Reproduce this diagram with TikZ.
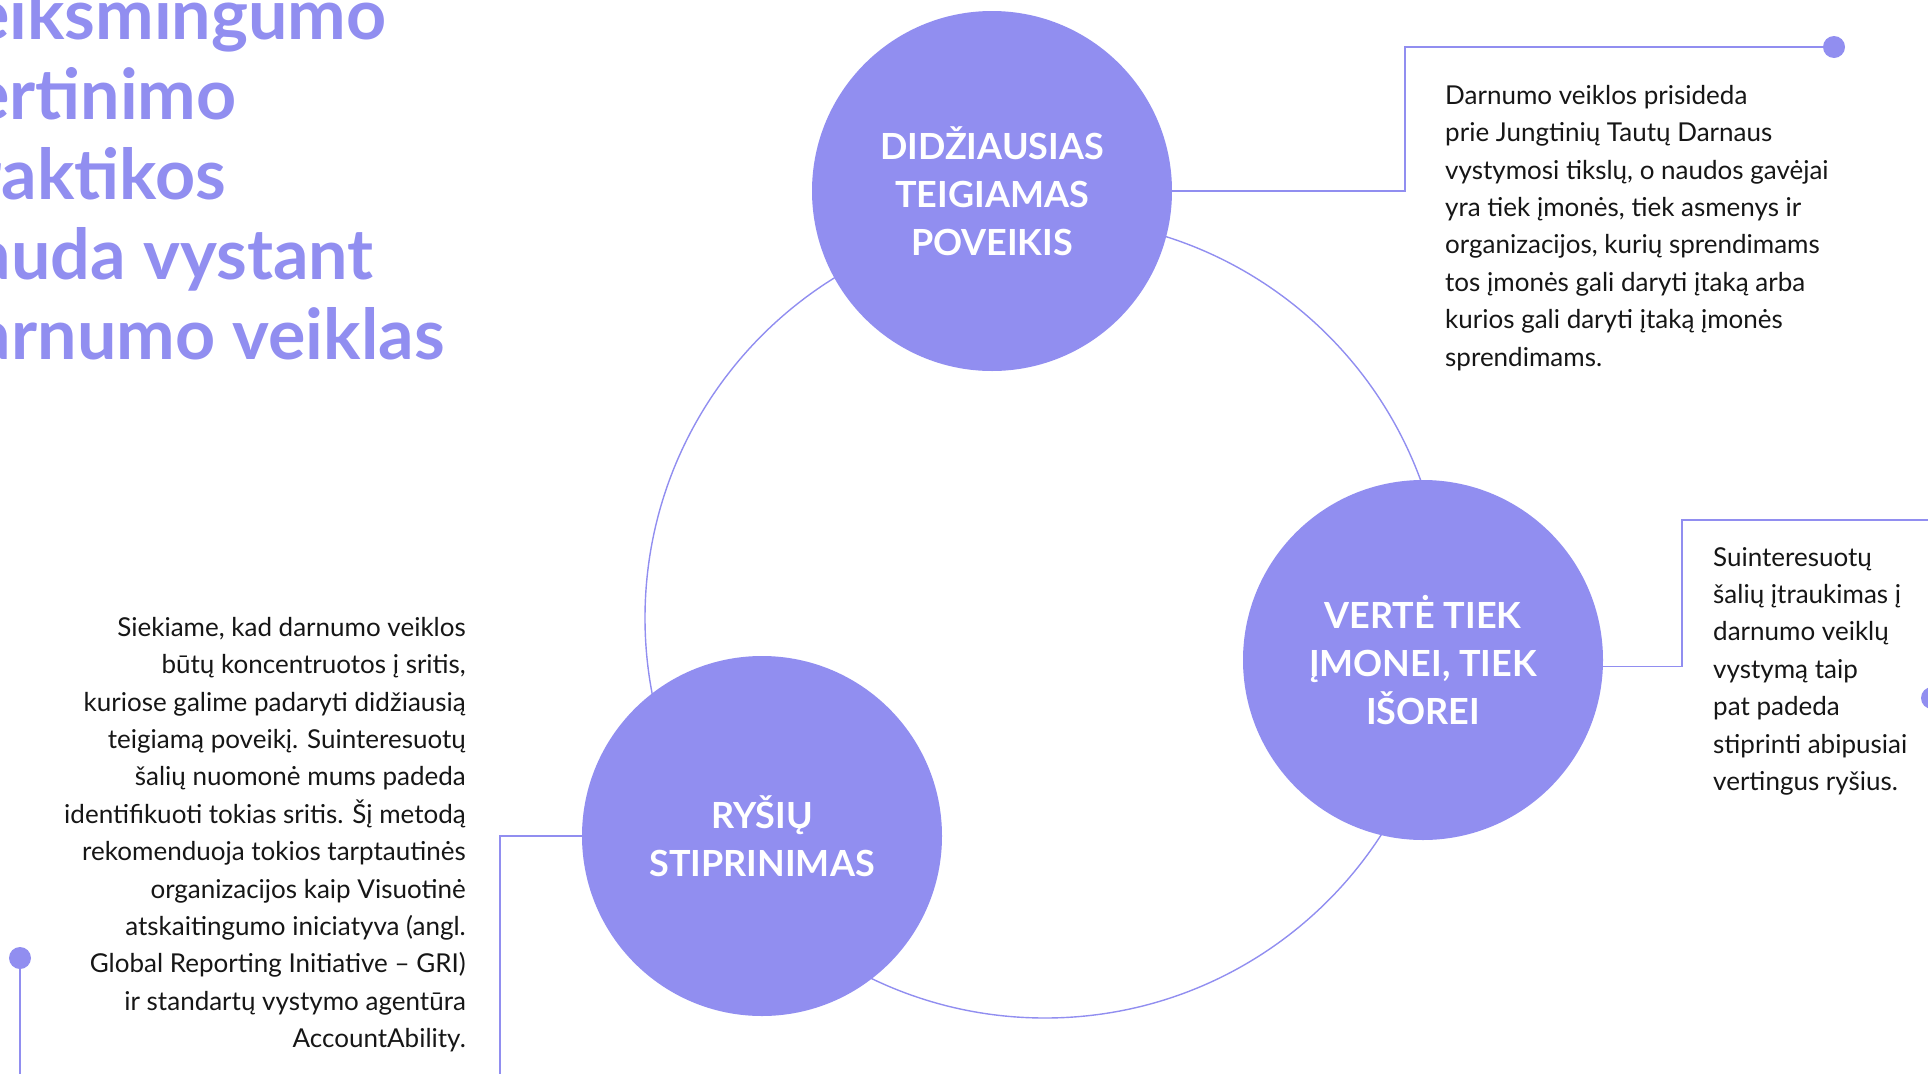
\documentclass[tikz,border=0pt]{standalone}
\usepackage{fontspec}
\setmainfont{Lato}
\definecolor{lav}{RGB}{145,142,240}
\definecolor{ink}{RGB}{22,22,22}
\begin{document}
\begin{tikzpicture}[x=1pt,y=-1pt,
    big/.style={circle,fill=lav,minimum size=360pt,inner sep=0pt,text=white,
      align=center,font=\bfseries\fontsize{36}{48}\selectfont},
    dot/.style={circle,fill=lav,minimum size=22pt,inner sep=0pt},
    link/.style={draw=lav,line width=1.4pt},
    body/.style={inner sep=0pt,text=ink,font=\fontsize{26}{37.4}\selectfont}]
  \useasboundingbox (0,0) rectangle (1928,1074);
  \clip (0,0) rectangle (1928,1074);
  \node[anchor=north west,inner sep=0pt,text=lav,align=left,
    font=\bfseries\fontsize{70}{80}\selectfont] (title) at (-64,-13)
    {veiksmingumo\\vertinimo\\praktikos\\nauda vystant\\darnumo veiklas};
  \draw[link] (1045,618) circle[radius=400];
  \node[big] (c1) at (992,191) {DIDŽIAUSIAS\\TEIGIAMAS\\POVEIKIS};
  \node[big] (c2) at (1423,660) {VERTĖ TIEK\\ĮMONEI, TIEK\\IŠOREI};
  \node[big] (c3) at (762,836) {RYŠIŲ\\STIPRINIMAS};
  \node[dot] (d1) at (1834,47) {};
  \node[dot] (d2) at (1932,698) {};
  \node[dot] (d3) at (20,958) {};
  \coordinate (k1) at (1405,47);
  \coordinate (k2) at (1682,520);
  \coordinate (e2) at (1928,520);
  \coordinate (e3) at (500,1074);
  \coordinate (e4) at (20,1074);
  \draw[link] (c1.east) -| (k1) -- (d1);
  \draw[link] (c2.-2.5) -| (k2) -- (e2);
  \draw[link] (c3.west) -| (e3);
  \draw[link] (d3) -- (e4);
  \node[body,anchor=north west,align=left] (p1) at (1445,85)
    {Darnumo veiklos prisideda\\
     prie Jungtinių Tautų Darnaus\\
     vystymosi tikslų, o naudos gavėjai\\
     yra tiek įmonės, tiek asmenys ir\\
     organizacijos, kurių sprendimams\\
     tos įmonės gali daryti įtaką arba\\
     kurios gali daryti įtaką įmonės\\
     sprendimams.};
  \node[body,anchor=north west,align=left] (p2) at (1713,547)
    {Suinteresuotų\\
     šalių įtraukimas į\\
     darnumo veiklų\\
     vystymą taip\\
     pat padeda\\
     stiprinti abipusiai\\
     vertingus ryšius.};
  \node[body,anchor=north east,align=right] (p3) at (466,617)
    {Siekiame, kad darnumo veiklos\\
     būtų koncentruotos į sritis,\\
     kuriose galime padaryti didžiausią\\
     teigiamą poveikį. Suinteresuotų\\
     šalių nuomonė mums padeda\\
     identifikuoti tokias sritis. Šį metodą\\
     rekomenduoja tokios tarptautinės\\
     organizacijos kaip Visuotinė\\
     atskaitingumo iniciatyva (angl.\\
     Global Reporting Initiative – GRI)\\
     ir standartų vystymo agentūra\\
     AccountAbility.};
\end{tikzpicture}
\end{document}
